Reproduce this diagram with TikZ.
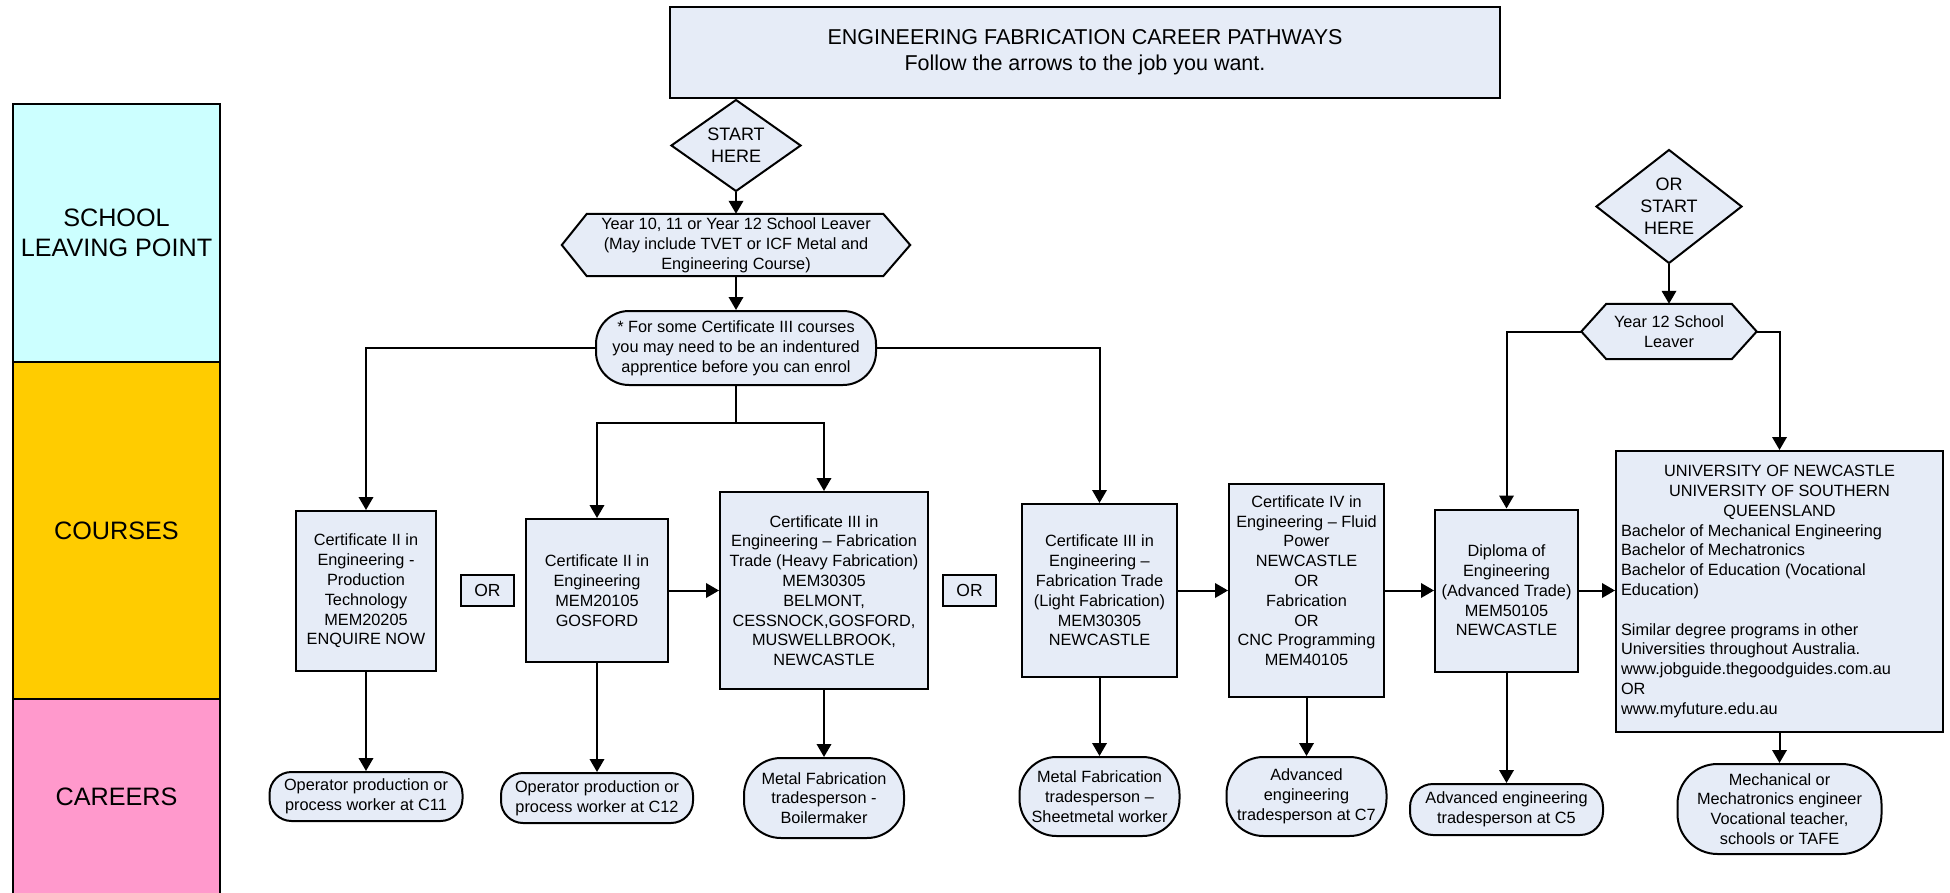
\documentclass[tikz,border=0pt]{standalone}
\usepackage{fontspec}
\setmainfont{Liberation Sans}
\usetikzlibrary{arrows.meta,shapes.geometric,backgrounds}
\definecolor{boxfill}{HTML}{E6ECF7}
\definecolor{bandcyan}{HTML}{CCFFFF}
\definecolor{bandyellow}{HTML}{FFCC00}
\definecolor{bandpink}{HTML}{FF99CC}
\newcommand\dgbody{\fontsize{16.3}{19.8}\selectfont}
\newcommand\dgband{\fontsize{25.2}{30}\selectfont}
\newcommand\dgtitle{\fontsize{21.5}{26}\selectfont}
\newcommand\dgor{\fontsize{17.5}{20}\selectfont}
\newcommand\dgdia{\fontsize{18}{22}\selectfont}
\begin{document}
\begin{tikzpicture}[x=1pt,y=-1pt,
  band/.style={draw, line width=2pt, minimum width=207pt, inner sep=0pt, align=center, font=\dgband, anchor=north west},
  box/.style={draw, line width=2pt, fill=boxfill, align=center, inner sep=0pt, font=\dgbody},
  hexbox/.style={inner sep=0pt, align=center, font=\dgbody},
  hexline/.style={draw, line width=2pt, fill=boxfill},
  arr/.style={line width=2pt, -{Triangle[length=13pt,width=14.5pt]}},
  ln/.style={line width=2pt}]
\useasboundingbox (0,0) rectangle (1950,893);
\begin{pgfonlayer}{background}
\fill[white] (0,0) rectangle (1950,893);
\end{pgfonlayer}

% bands
\node[band, fill=bandcyan, minimum height=258pt] (b1) at (12,103) {SCHOOL\\LEAVING POINT};
\node[band, fill=bandyellow, minimum height=337pt] (b2) at (12,361) {COURSES};
\node[band, fill=bandpink, minimum height=195pt] (b3) at (12,698) {CAREERS};

% title
\node[box, font=\dgtitle, minimum width=830pt, minimum height=91pt] (title) at (1085,52.5)
  {ENGINEERING FABRICATION CAREER PATHWAYS\\Follow the arrows to the job you want.};

% start
\node[box, diamond, font=\dgdia, minimum width=130pt, minimum height=77pt] (s1) at (736,145.5) {START\\HERE};
\node[hexbox, minimum width=348pt, minimum height=62pt] (yr) at (736,245)
  {Year 10, 11 or Year 12 School Leaver\\(May include TVET or ICF Metal and\\Engineering Course)};
\node[box, rounded corners=33pt, minimum width=280pt, minimum height=74pt] (note) at (736,348)
  {* For some Certificate III courses\\you may need to be an indentured\\apprentice before you can enrol};
\coordinate (j) at (736,423);

% second start
\node[box, diamond, font=\dgdia, minimum width=146pt, minimum height=101pt] (s2) at (1669,206.5) {OR\\START\\HERE};
\node[hexbox, minimum width=175pt, minimum height=55pt] (y12) at (1669,331.5) {Year 12 School\\Leaver};

\begin{pgfonlayer}{background}
\draw[hexline] (yr.west) -- ([xshift=25pt]yr.north west) -- ([xshift=-27pt]yr.north east) -- (yr.east)
  -- ([xshift=-27pt]yr.south east) -- ([xshift=25pt]yr.south west) -- cycle;
\draw[hexline] (y12.west) -- ([xshift=25pt]y12.north west) -- ([xshift=-25pt]y12.north east) -- (y12.east)
  -- ([xshift=-25pt]y12.south east) -- ([xshift=25pt]y12.south west) -- cycle;
\end{pgfonlayer}

% courses
\node[box, minimum width=140pt, minimum height=160pt] (c2p) at (366,591)
  {Certificate II in\\Engineering -\\Production\\Technology\\MEM20205\\ENQUIRE NOW};
\node[box, font=\dgor, minimum width=53pt, minimum height=31pt] (or1) at (487.5,590.5) {OR};
\node[box, minimum width=142pt, minimum height=143pt] (c2g) at (597,590.5)
  {Certificate II in\\Engineering\\MEM20105\\GOSFORD};
\node[box, minimum width=208pt, minimum height=197pt] (c3h) at (824,590.5)
  {Certificate III in\\Engineering -- Fabrication\\Trade (Heavy Fabrication)\\MEM30305\\BELMONT,\\CESSNOCK,GOSFORD,\\MUSWELLBROOK,\\NEWCASTLE};
\node[box, font=\dgor, minimum width=53pt, minimum height=31pt] (or2) at (969.5,590.5) {OR};
\node[box, minimum width=155pt, minimum height=173pt] (c3l) at (1099.5,590.5)
  {Certificate III in\\Engineering --\\Fabrication Trade\\(Light Fabrication)\\MEM30305\\NEWCASTLE};
\node[box, minimum width=155pt, minimum height=213pt] (c4) at (1306.5,590.5)
  {Certificate IV in\\Engineering -- Fluid\\Power\\NEWCASTLE\\OR\\Fabrication\\OR\\CNC Programming\\MEM40105\\\mbox{}};
\node[box, minimum width=143pt, minimum height=162pt] (dip) at (1506.5,590.5)
  {Diploma of\\Engineering\\(Advanced Trade)\\MEM50105\\NEWCASTLE};
\node[box, minimum width=327pt, minimum height=281pt] (uni) at (1779.5,591.5)
  {\begin{minipage}{317pt}\dgbody\centering
   UNIVERSITY OF NEWCASTLE\\UNIVERSITY OF SOUTHERN\\QUEENSLAND\par
   \raggedright
   Bachelor of Mechanical Engineering\\Bachelor of Mechatronics\\Bachelor of Education (Vocational\\Education)\\\mbox{}\\Similar degree programs in other\\Universities throughout Australia.\\www.jobguide.thegoodguides.com.au\\OR\\www.myfuture.edu.au\par
   \end{minipage}};

% careers
\node[box, rounded corners=22pt, minimum width=193pt, minimum height=49pt] (k11) at (366,796.5)
  {Operator production or\\process worker at C11};
\node[box, rounded corners=22pt, minimum width=192pt, minimum height=50pt] (k12) at (597,798)
  {Operator production or\\process worker at C12};
\node[box, rounded corners=37pt, minimum width=160pt, minimum height=80pt] (kb) at (824,798)
  {Metal Fabrication\\tradesperson -\\Boilermaker};
\node[box, rounded corners=37pt, minimum width=160pt, minimum height=79pt] (ks) at (1099.5,796.5)
  {Metal Fabrication\\tradesperson --\\Sheetmetal worker};
\node[box, rounded corners=37pt, minimum width=160pt, minimum height=79pt] (k7) at (1306.5,796.5)
  {Advanced\\engineering\\tradesperson at C7};
\node[box, rounded corners=23pt, minimum width=193pt, minimum height=51pt] (k5) at (1506.5,809.5)
  {Advanced engineering\\tradesperson at C5};
\node[box, rounded corners=40pt, minimum width=204pt, minimum height=90pt] (km) at (1779.5,809)
  {Mechanical or\\Mechatronics engineer\\Vocational teacher,\\schools or TAFE};

% connectors
\draw[arr] (s1.south) -- (yr.north);
\draw[arr] (yr.south) -- (note.north);
\draw[arr] (note.west) -| (c2p.north);
\draw[arr] (note.east) -| (c3l.north);
\draw[ln] (note.south) -- (j);
\draw[arr] (j) -| (c2g.north);
\draw[arr] (j) -| (c3h.north);
\draw[arr] (c2g.east) -- (c3h.west);
\draw[arr] (c3l.east) -- (c4.west);
\draw[arr] (c4.east) -- (dip.west);
\draw[arr] (dip.east) -- (dip.east -| uni.west);
\draw[arr] (s2.south) -- (y12.north);
\draw[arr] (y12.west) -| (dip.north);
\draw[arr] (y12.east) -| (uni.north);
\draw[arr] (c2p.south) -- (k11.north);
\draw[arr] (c2g.south) -- (k12.north);
\draw[arr] (c3h.south) -- (kb.north);
\draw[arr] (c3l.south) -- (ks.north);
\draw[arr] (c4.south) -- (k7.north);
\draw[arr] (dip.south) -- (k5.north);
\draw[arr] (uni.south) -- (km.north);
\end{tikzpicture}
\end{document}
